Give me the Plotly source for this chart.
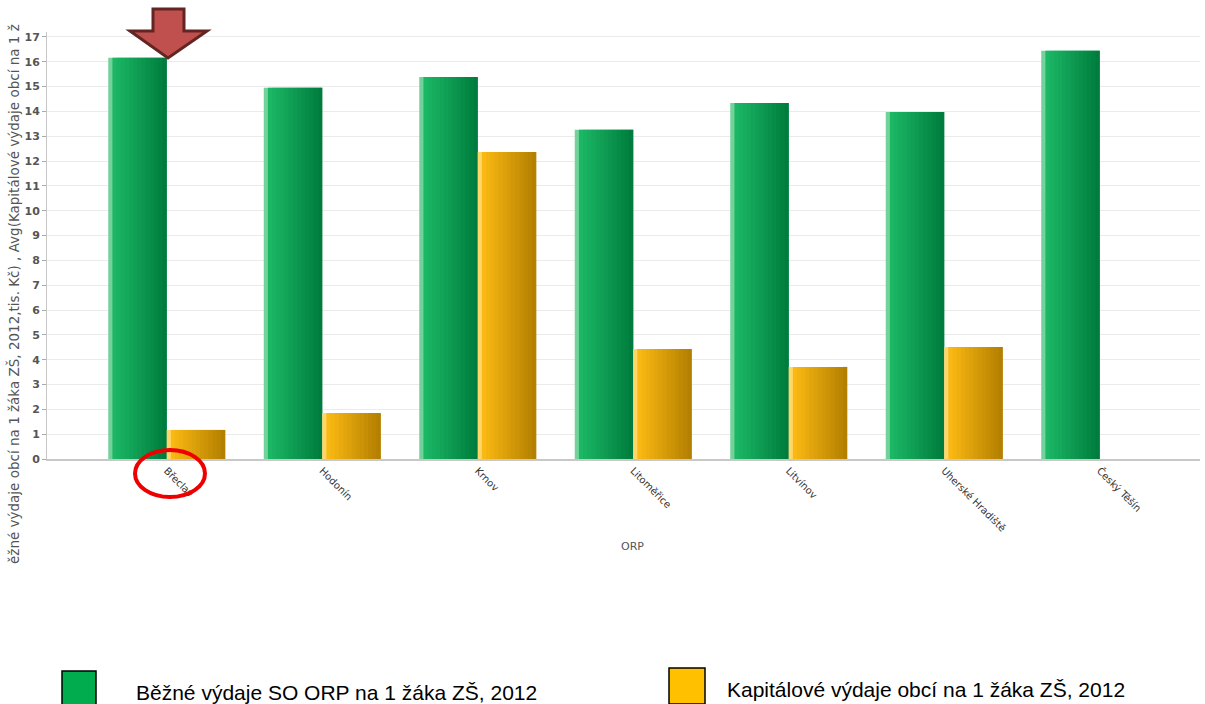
import plotly.graph_objects as go

categories = ["Břeclav", "Hodonín", "Krnov", "Litoměřice", "Litvínov", "Uherské Hradiště", "Český Těšín"]
bezne = [16.16, 14.95, 15.39, 13.26, 14.34, 13.98, 16.44]
kapitalove = [1.17, 1.85, 12.37, 4.43, 3.71, 4.51, None]
yticks = list(range(0, 18))

W, H = 1205, 704
ML, MR, MT, MB = 47, 5, 32, 245
PW, PH = W - ML - MR, H - MT - MB


def px(x):
    return (x - ML) / PW


def py(y):
    return (H - MB - y) / PH


def lerp(c1, c2, t):
    return "rgb(%d,%d,%d)" % tuple(round(a + (b - a) * t) for a, b in zip(c1, c2))


fig = go.Figure()
BW = 0.376
N = 14
STEP = BW / N
series = [
    (bezne, (30, 188, 104), (0, 125, 62), -BW, (150, 220, 175)),
    (kapitalove, (255, 189, 20), (180, 128, 0), 0.0, (255, 225, 140)),
]
for vals, c1, c2, start, hi in series:
    for i in range(N):
        t = i / (N - 1)
        col = lerp(c1, c2, t)
        if i == 0:
            col = lerp(hi, c1, 0.3)
        w = STEP if i == N - 1 else STEP * 2
        fig.add_trace(go.Bar(
            x=categories, y=vals, width=w, offset=start + i * STEP,
            marker=dict(color=col, line=dict(width=0)),
            showlegend=False, hoverinfo="skip",
        ))

fig.update_layout(
    width=W, height=H, barmode="overlay",
    margin=dict(l=ML, r=MR, t=MT, b=MB, autoexpand=False),
    plot_bgcolor="white", paper_bgcolor="white",
    showlegend=False,
    font=dict(family="DejaVu Sans", color="#555"),
)
fig.update_xaxes(
    range=[-0.77, 6.645], tickangle=45, tickfont=dict(size=10, color="#333", family="DejaVu Sans"),
    showline=True, linecolor="#c8c8c8", linewidth=2, showgrid=False, ticks="",
)
fig.update_yaxes(
    range=[0, 17.2], tickvals=yticks, ticktext=[str(v) for v in yticks],
    tickfont=dict(size=11, color="#555", family="DejaVu Sans", weight="bold"),
    showgrid=True, gridcolor="#ebebeb", gridwidth=1, zeroline=False,
    showline=True, linecolor="#c8c8c8", linewidth=1, ticks="outside", ticklen=4, tickcolor="#aaa",
)

ann = [
    dict(x=px(632), y=py(546), text="ORP", font=dict(size=11, color="#555")),
    dict(x=px(13), y=py(294), text="ěžné výdaje obcí na 1 žáka ZŠ, 2012,tis. Kč) , Avg(Kapitálové výdaje obcí na 1 ž",
         textangle=-90, font=dict(size=13.5, color="#555")),
    dict(x=px(134), y=py(692), text="Běžné výdaje SO ORP na 1 žáka ZŠ, 2012", xanchor="left",
         font=dict(size=21, color="black", family="Liberation Sans")),
    dict(x=px(725), y=py(689), text="Kapitálové výdaje obcí na 1 žáka ZŠ, 2012", xanchor="left",
         font=dict(size=21, color="black", family="Liberation Sans")),
]
for a in ann:
    a.setdefault("xanchor", "center")
    fig.add_annotation(xref="paper", yref="paper", showarrow=False, yanchor="middle", **a)

shapes = []
shapes.append(dict(type="rect", xref="paper", yref="paper", x0=px(62), x1=px(96), y0=py(671), y1=py(708),
                   fillcolor="#00ac4e", line=dict(color="black", width=1.5)))
shapes.append(dict(type="rect", xref="paper", yref="paper", x0=px(669), x1=px(705), y0=py(668), y1=py(704),
                   fillcolor="#ffc000", line=dict(color="black", width=1.5)))
arrow = [(153, 9), (184, 9), (184, 31), (207, 31), (168, 58), (130, 31), (153, 31)]
path = "M " + " L ".join("%f,%f" % (px(a), py(b)) for a, b in arrow) + " Z"
shapes.append(dict(type="path", xref="paper", yref="paper", path=path,
                   fillcolor="#c0504d", line=dict(color="#632523", width=3)))
shapes.append(dict(type="circle", xref="paper", yref="paper", x0=px(135), x1=px(205), y0=py(450), y1=py(497),
                   line=dict(color="#ee0000", width=4)))
fig.update_layout(shapes=shapes)

fig.write_html("out.html", config={"displayModeBar": False},
               post_script="document.body.style.margin='0';document.body.style.overflow='hidden';")
